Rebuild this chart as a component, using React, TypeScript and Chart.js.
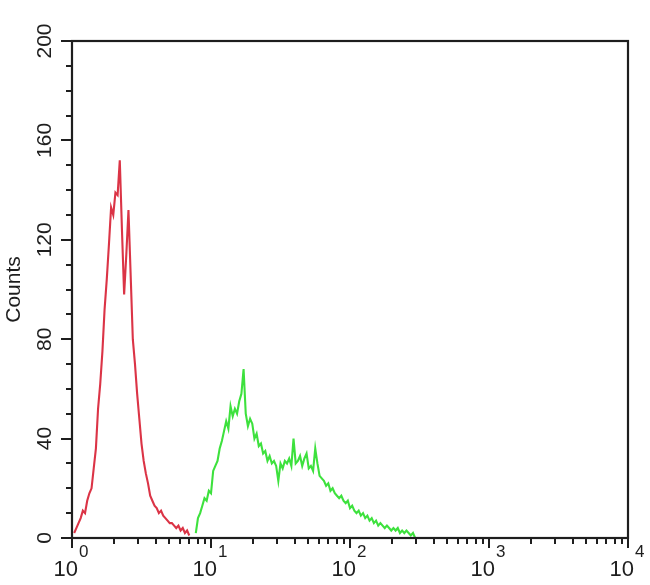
import React, { useEffect, useRef } from 'react';
import { Chart, registerables } from 'chart.js';

Chart.register(...registerables);

// Histogram bins: 64 channels per decade on a 10^0..10^4 log axis
const CHANNELS_PER_DECADE = 64;

const redStartChannel = 1;
const redCounts = [
  2, 4, 6, 8, 11, 10, 15, 18, 20, 28,
  36, 52, 62, 75, 92, 104, 118, 133, 130, 139,
  138, 152, 124, 98, 114, 132, 106, 80, 70, 58,
  48, 38, 31, 26, 22, 17, 15, 13, 12, 10,
  11, 9, 8, 7, 6, 6, 5, 4, 5, 3,
  4, 2, 3, 1,
];

const greenStartChannel = 57;
const greenCounts = [
  2, 8, 10, 13, 16, 15, 19, 18, 27, 29,
  31, 36, 39, 43, 47, 44, 53, 49, 52, 50,
  55, 58, 68, 50, 45, 48, 46, 40, 42, 37,
  38, 34, 35, 31, 33, 30, 31, 29, 23, 30,
  28, 31, 30, 32, 29, 40, 30, 31, 33, 29,
  32, 34, 28, 29, 27, 36, 30, 25, 24, 23,
  21, 22, 19, 20, 18, 17, 16, 17, 15, 14,
  15, 12, 13, 11, 10, 11, 9, 10, 8, 9,
  7, 8, 6, 7, 5, 6, 5, 4, 5, 4,
  3, 4, 3, 4, 2, 3, 2, 3, 2, 1,
  2, 0,
];

const yTickValues = [0, 40, 80, 120, 160, 200];
const yTickLabels = ['0', '40', '80', '120', '160', '200'];
const yMinorStep = 10;
const yMin = 0;
const yMax = 200;

const xDecadeExponents = ['0', '1', '2', '3', '4'];
const xDecadeBase = '10';
const xMin = 1;
const xMax = 10000;

const yAxisTitle = 'Counts';

const FONT = '"Liberation Sans", Arial, sans-serif';
const INK = '#1e1e1e';

function toPoints(start: number, counts: number[]) {
  return counts.map((c, i) => ({ x: Math.pow(10, (start + i) / CHANNELS_PER_DECADE), y: c }));
}

const decorPlugin = {
  id: 'flowDecor',
  afterDraw(chart: any) {
    const { ctx, chartArea, scales } = chart;
    const xs = scales.x;
    const ys = scales.y;
    const { left, right, top, bottom } = chartArea;
    ctx.save();
    ctx.strokeStyle = INK;
    ctx.fillStyle = INK;

    // frame
    ctx.lineWidth = 2.2;
    ctx.strokeRect(left, top, right - left, bottom - top);

    // y ticks
    ctx.lineWidth = 2;
    for (let v = yMin; v <= yMax; v += yMinorStep) {
      const y = Math.round(ys.getPixelForValue(v));
      const major = yTickValues.includes(v);
      const len = major ? 11 : 6;
      ctx.beginPath();
      ctx.moveTo(left - len, y);
      ctx.lineTo(left, y);
      ctx.stroke();
    }

    // y labels (rotated)
    ctx.font = `21px ${FONT}`;
    ctx.textAlign = 'center';
    ctx.textBaseline = 'middle';
    yTickValues.forEach((v, i) => {
      const y = ys.getPixelForValue(v);
      ctx.save();
      ctx.translate(left - 27, y);
      ctx.rotate(-Math.PI / 2);
      ctx.fillText(yTickLabels[i], 0, 0);
      ctx.restore();
    });

    // x ticks (log)
    ctx.lineWidth = 2;
    for (let d = 0; d < xDecadeExponents.length; d++) {
      const base = Math.pow(10, d);
      const maxM = d === xDecadeExponents.length - 1 ? 1 : 9;
      for (let m = 1; m <= maxM; m++) {
        const v = m * base;
        const x = Math.round(xs.getPixelForValue(v));
        const len = m === 1 ? 10 : 6;
        ctx.beginPath();
        ctx.moveTo(x, bottom);
        ctx.lineTo(x, bottom + len);
        ctx.stroke();
      }
    }

    // x labels: 10 with superscript exponent
    ctx.textAlign = 'left';
    ctx.textBaseline = 'alphabetic';
    xDecadeExponents.forEach((e, d) => {
      const x = xs.getPixelForValue(Math.pow(10, d));
      ctx.font = `22px ${FONT}`;
      const wBase = ctx.measureText(xDecadeBase).width;
      ctx.font = `17px ${FONT}`;
      const wExp = ctx.measureText(e).width;
      const start = x - 1 - (wBase + wExp + 1) / 2;
      ctx.font = `22px ${FONT}`;
      ctx.fillText(xDecadeBase, start, bottom + 38);
      ctx.font = `17px ${FONT}`;
      ctx.fillText(e, start + wBase + 1, bottom + 19);
    });

    ctx.restore();
  },
};

export default function App() {
  const canvasRef = useRef<HTMLCanvasElement | null>(null);

  useEffect(() => {
    if (!canvasRef.current) return;
    Chart.defaults.font.family = FONT;
    const chart = new Chart(canvasRef.current, {
      type: 'line',
      data: {
        datasets: [
          {
            label: 'Control',
            data: toPoints(redStartChannel, redCounts),
            borderColor: 'rgba(214, 24, 44, 0.88)',
            borderWidth: 2.1,
            pointRadius: 0,
            tension: 0,
            fill: false,
          },
          {
            label: 'Sample',
            data: toPoints(greenStartChannel, greenCounts),
            borderColor: 'rgba(40, 222, 40, 0.9)',
            borderWidth: 2.1,
            pointRadius: 0,
            tension: 0,
            fill: false,
          },
        ],
      },
      options: {
        animation: false,
        responsive: false,
        maintainAspectRatio: false,
        parsing: false as any,
        layout: { padding: { top: 41, right: 22, bottom: 0, left: 0 } },
        plugins: {
          legend: { display: false },
          tooltip: { enabled: false },
        },
        scales: {
          x: {
            type: 'logarithmic',
            min: xMin,
            max: xMax,
            grid: { display: false },
            border: { display: false },
            ticks: { display: false },
            afterFit: (s: any) => {
              s.height = 47;
            },
          },
          y: {
            type: 'linear',
            min: yMin,
            max: yMax,
            grid: { display: false },
            border: { display: false },
            ticks: { display: false },
            title: {
              display: true,
              text: yAxisTitle,
              color: INK,
              font: { size: 21, family: FONT },
              padding: { top: 2, bottom: 0 },
            },
            afterFit: (s: any) => {
              s.width = 72;
            },
          },
        },
      },
      plugins: [decorPlugin],
    });
    return () => chart.destroy();
  }, []);

  return (
    <div style={{ position: 'absolute', left: 0, top: 0, width: 650, height: 585, background: '#fff' }}>
      <canvas ref={canvasRef} width={650} height={585} />
    </div>
  );
}
